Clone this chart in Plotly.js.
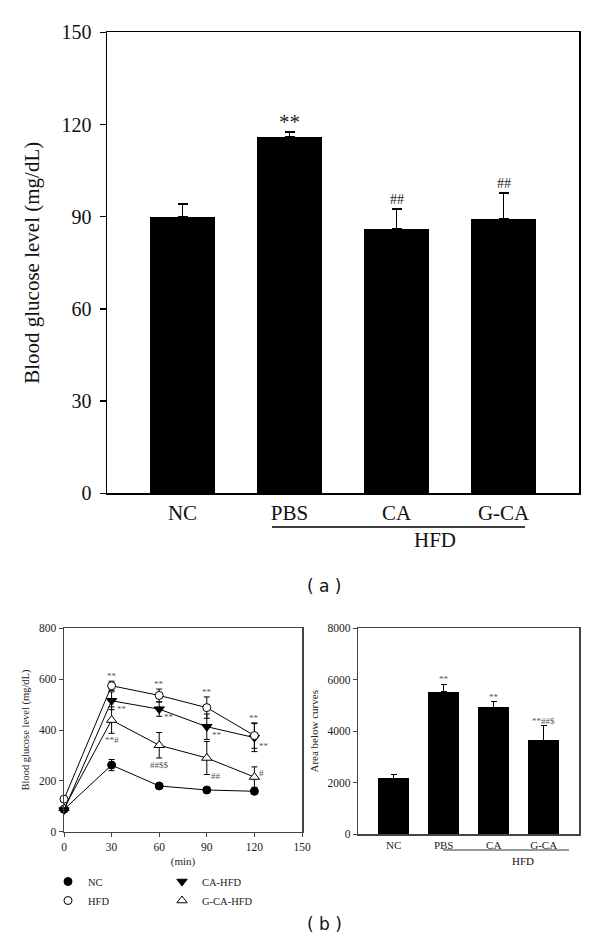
<!DOCTYPE html>
<html>
<head>
<meta charset="utf-8">
<script src="https://cdn.plot.ly/plotly-3.0.1.min.js"></script>
<style>html,body{margin:0;padding:0;background:#fff;}#chart{width:600px;height:951px;}</style>
</head>
<body>
<div id="chart"></div>
<script>
// ---------- Data (a): fasting blood glucose ----------
const groupsA = ['NC', 'PBS', 'CA', 'G-CA'];
const glucoseA = [90.0, 116.0, 86.0, 89.3];
const glucoseAErr = [4.1, 1.6, 6.4, 8.3];
const sigA = ['', '**', '##', '##'];

// ---------- Data (b) left: glucose tolerance test ----------
const timeMin = [0, 30, 60, 90, 120];
const ncGlucose = [88, 262, 180, 164, 159];
const ncErr = [8, 22, 9, 11, 11];
const hfdGlucose = [128, 574, 536, 488, 378];
const hfdErr = [10, 18, 25, 42, 50];
const caGlucose = [85, 515, 482, 413, 370];
const caErr = [8, 35, 28, 50, 55];
const gcaGlucose = [92, 439, 340, 290, 215];
const gcaErr = [8, 52, 50, 65, 40];
const hfdSig = ['', '**', '**', '**', '**'];
const caSig = ['', '**', '**', '**', '**'];
const gcaSig = ['', '**#', '##$$', '##', '#'];
const seriesNames = ['NC', 'HFD', 'CA-HFD', 'G-CA-HFD'];

// ---------- Data (b) right: area below curves ----------
const groupsB = ['NC', 'PBS', 'CA', 'G-CA'];
const aucB = [2175, 5538, 4932, 3650];
const aucBErr = [140, 290, 220, 570];
const sigB = ['', '**', '**', '**##$'];

const SERIF = 'Liberation Serif, Times New Roman, serif';
const W = 600, H = 951;
const px = v => v / W;
const py = v => 1 - v / H;

const traces = [];

// (a) bars
traces.push({
  type: 'bar', x: groupsA, y: glucoseA, xaxis: 'x', yaxis: 'y',
  width: 0.607, marker: {color: '#000'}, showlegend: false,
  error_y: {type: 'data', array: glucoseAErr, arrayminus: glucoseAErr.map(() => 0),
            symmetric: false, color: '#000', thickness: 1.7, width: 5}
});

// (b) left lines
function lineTrace(y, err, name, marker) {
  return {
    type: 'scatter', mode: 'lines+markers', x: timeMin, y: y, name: name,
    xaxis: 'x2', yaxis: 'y2', showlegend: false, cliponaxis: false,
    line: {color: '#000', width: 1},
    marker: marker,
    error_y: {type: 'data', array: err, color: '#000', thickness: 1, width: 3}
  };
}
const mNC = {symbol: 'circle', size: 8, color: '#000', line: {color: '#000', width: 1}};
const mHFD = {symbol: 'circle', size: 8, color: '#fff', line: {color: '#000', width: 1}};
const mCA = {symbol: 'triangle-down', size: 9, color: '#000', line: {color: '#000', width: 1}};
const mGCA = {symbol: 'triangle-up', size: 9, color: '#fff', line: {color: '#000', width: 1}};
traces.push(lineTrace(ncGlucose, ncErr, seriesNames[0], mNC));
traces.push(lineTrace(gcaGlucose, gcaErr, seriesNames[3], mGCA));
traces.push(lineTrace(caGlucose, caErr, seriesNames[2], mCA));
traces.push(lineTrace(hfdGlucose, hfdErr, seriesNames[1], mHFD));

// legend-only entries (markers only, as in the figure)
function legendEntry(name, marker, leg) {
  return {type: 'scatter', mode: 'markers', x: [null], y: [null], name: name,
          xaxis: 'x2', yaxis: 'y2', marker: marker, legend: leg, showlegend: true};
}
traces.push(legendEntry(seriesNames[0], mNC, 'legend'));
traces.push(legendEntry(seriesNames[1], mHFD, 'legend'));
traces.push(legendEntry(seriesNames[2], mCA, 'legend2'));
traces.push(legendEntry(seriesNames[3], mGCA, 'legend2'));

// (b) right bars
traces.push({
  type: 'bar', x: groupsB, y: aucB, xaxis: 'x3', yaxis: 'y3',
  width: 0.61, marker: {color: '#000'}, showlegend: false,
  error_y: {type: 'data', array: aucBErr, arrayminus: aucBErr.map(() => 0),
            symmetric: false, color: '#000', thickness: 1.2, width: 3}
});

// ---------- Annotations ----------
const annotations = [];
// (a) significance
groupsA.forEach((g, i) => {
  if (!sigA[i]) return;
  annotations.push({x: g, y: glucoseA[i] + glucoseAErr[i], xref: 'x', yref: 'y',
    text: sigA[i], showarrow: false, yanchor: 'bottom', yshift: sigA[i] === '**' ? -4 : 0,
    font: {family: SERIF, size: sigA[i] === '**' ? 21 : 14, color: '#222'}});
});
// (b) right significance
groupsB.forEach((g, i) => {
  if (!sigB[i]) return;
  annotations.push({x: g, y: aucB[i] + aucBErr[i], xref: 'x3', yref: 'y3',
    text: sigB[i], showarrow: false, yanchor: 'bottom', yshift: -2,
    font: {family: SERIF, size: 9, color: '#555'}});
});
// (b) left significance
const sigFont = {family: SERIF, size: 9, color: '#555'};
timeMin.forEach((t, i) => {
  if (hfdSig[i]) annotations.push({x: t, y: hfdGlucose[i] + hfdErr[i], xref: 'x2', yref: 'y2',
    text: hfdSig[i], showarrow: false, yanchor: 'bottom', yshift: -2, font: sigFont});
  if (caSig[i]) annotations.push({x: t, y: caGlucose[i], xref: 'x2', yref: 'y2',
    text: caSig[i], showarrow: false, xanchor: 'left', yanchor: 'middle', xshift: 3, yshift: -8, font: sigFont});
  if (gcaSig[i]) {
    if (i <= 2) {
      annotations.push({x: t, y: gcaGlucose[i] - gcaErr[i], xref: 'x2', yref: 'y2',
        text: gcaSig[i], showarrow: false, yanchor: 'top', yshift: 0, font: sigFont});
    } else if (i === 3) {
      annotations.push({x: t, y: gcaGlucose[i] - gcaErr[i], xref: 'x2', yref: 'y2',
        text: gcaSig[i], showarrow: false, xanchor: 'left', yanchor: 'middle', xshift: 2, yshift: -2, font: sigFont});
    } else {
      annotations.push({x: t, y: gcaGlucose[i], xref: 'x2', yref: 'y2',
        text: gcaSig[i], showarrow: false, xanchor: 'left', yanchor: 'middle', xshift: 3, yshift: 4, font: sigFont});
    }
  }
});
// group labels
annotations.push({x: 2.36, y: py(540), xref: 'x', yref: 'paper', text: 'HFD', showarrow: false,
  font: {family: SERIF, size: 21, color: '#111'}});
annotations.push({x: 2.58, y: py(853), xref: 'x3', yref: 'paper', text: 'HFD', showarrow: false,
  yanchor: 'top', font: {family: SERIF, size: 11, color: '#111'}});
// panel labels
annotations.push({x: px(324), y: py(586), xref: 'paper', yref: 'paper', text: '( a )', showarrow: false,
  font: {family: 'DejaVu Sans, Verdana, sans-serif', size: 17, color: '#111'}});
annotations.push({x: px(324), y: py(936), xref: 'paper', yref: 'paper', text: '( b )', showarrow: false,
  font: {family: 'DejaVu Sans, Verdana, sans-serif', size: 17, color: '#111'}});

const shapes = [
  {type: 'line', xref: 'x', yref: 'paper', x0: 0.836, x1: 3.20, y0: py(527), y1: py(527),
   line: {color: '#000', width: 1.5}},
  {type: 'line', xref: 'x3', yref: 'paper', x0: 0.986, x1: 3.506, y0: py(850), y1: py(850),
   line: {color: '#333', width: 1}}
];

const tickFontA = {family: SERIF, size: 20, color: '#111'};
const xTickFontA = {family: SERIF, size: 21, color: '#111'};
const tickFontB = {family: SERIF, size: 11.5, color: '#222'};
const xTickFontB = {family: SERIF, size: 11, color: '#222'};

const layout = {
  width: W, height: H,
  margin: {l: 0, r: 0, t: 0, b: 0},
  paper_bgcolor: '#fff', plot_bgcolor: '#fff',
  showlegend: true,
  bargap: 0,
  xaxis: {domain: [px(107), px(579)], anchor: 'y', type: 'category',
    range: [-0.706, 3.705], showline: true, mirror: true, linecolor: '#000', linewidth: 1.5,
    ticks: '', showgrid: false, zeroline: false, tickfont: xTickFontA, fixedrange: true},
  yaxis: {domain: [py(493.3), py(32.3)], anchor: 'x', range: [0, 150], dtick: 30,
    showline: true, mirror: true, linecolor: '#000', linewidth: 1.5,
    ticks: 'outside', ticklen: 6, tickwidth: 1.5, tickcolor: '#000', ticklabelstandoff: 4,
    showgrid: false, zeroline: false, tickfont: tickFontA,
    title: {text: 'Blood glucose level (mg/dL)', font: {family: SERIF, size: 21, color: '#111'}, standoff: 16}},
  xaxis2: {domain: [px(64), px(302)], anchor: 'y2', range: [0, 150], dtick: 30,
    showline: true, mirror: true, linecolor: '#444', linewidth: 1.5,
    ticks: 'outside', ticklen: 4, tickwidth: 1, tickcolor: '#444',
    showgrid: false, zeroline: false, tickfont: tickFontB,
    title: {text: '(min)', font: {family: SERIF, size: 11, color: '#222'}, standoff: 5}},
  yaxis2: {domain: [py(831.7), py(628.3)], anchor: 'x2', range: [0, 800], dtick: 200,
    showline: true, mirror: true, linecolor: '#444', linewidth: 1.5,
    ticks: 'outside', ticklen: 4, tickwidth: 1, tickcolor: '#444',
    showgrid: false, zeroline: false, tickfont: tickFontB,
    title: {text: 'Blood glucose level (mg/dL)', font: {family: SERIF, size: 10.5, color: '#222'}, standoff: 7}},
  xaxis3: {domain: [px(358.3), px(579.3)], anchor: 'y3', type: 'category',
    range: [-0.708, 3.712], showline: true, mirror: true, linecolor: '#444', linewidth: 1.5,
    ticks: '', showgrid: false, zeroline: false, tickfont: xTickFontB},
  yaxis3: {domain: [py(834.3), py(628.3)], anchor: 'x3', range: [0, 8000], dtick: 2000,
    showline: true, mirror: true, linecolor: '#444', linewidth: 1.5,
    ticks: 'outside', ticklen: 4, tickwidth: 1, tickcolor: '#444',
    showgrid: false, zeroline: false, tickfont: tickFontB,
    title: {text: 'Area below curves', font: {family: SERIF, size: 11, color: '#222'}, standoff: 6}},
  legend: {x: px(48), y: py(867), xanchor: 'left', yanchor: 'top', orientation: 'v',
    bgcolor: 'rgba(0,0,0,0)', borderwidth: 0, tracegroupgap: 0,
    font: {family: SERIF, size: 10.5, color: '#222'}},
  legend2: {x: px(162), y: py(867), xanchor: 'left', yanchor: 'top', orientation: 'v',
    bgcolor: 'rgba(0,0,0,0)', borderwidth: 0, tracegroupgap: 0,
    font: {family: SERIF, size: 10.5, color: '#222'}},
  annotations: annotations,
  shapes: shapes
};

Plotly.newPlot('chart', traces, layout, {staticPlot: true, displayModeBar: false});
</script>
</body>
</html>
